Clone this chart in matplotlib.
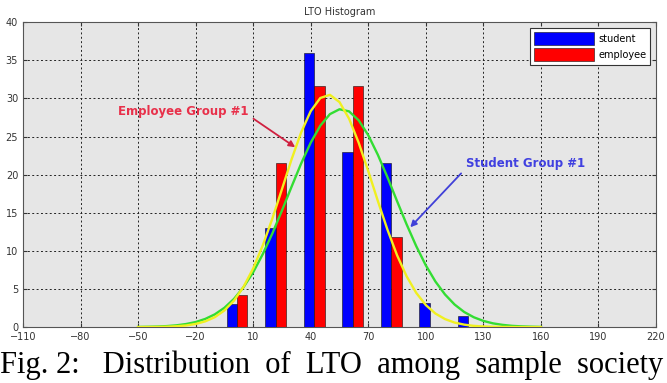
import matplotlib.pyplot as plt
import numpy as np

# Histogram bins (group centres) and counts
bin_centers = [1.6, 21.7, 41.8, 61.9, 82.0, 102.1, 122.2]
student = [3.0, 13.0, 36.0, 23.0, 21.5, 3.1, 1.5]
employee = [4.2, 21.5, 31.6, 31.6, 11.8, 0.0, 0.0]

# Fitted curves, every 5 units
curve_x = [-50, -45, -40, -35, -30, -25, -20, -15, -10, -5, 0, 5, 10, 15, 20, 25,
           30, 35, 40, 45, 50, 55, 60, 65, 70, 75, 80, 85, 90, 95, 100, 105,
           110, 115, 120, 125, 130, 135, 140, 145, 150, 155, 160]
student_fit = [0.02, 0.04, 0.07, 0.13, 0.23, 0.40, 0.66, 1.07, 1.67, 2.53, 3.70, 5.25,
               7.20, 9.57, 12.29, 15.29, 18.41, 21.46, 24.20, 26.43, 27.94, 28.58,
               28.30, 27.13, 25.17, 22.60, 19.66, 16.53, 13.47, 10.62, 8.10, 5.98,
               4.28, 2.96, 1.98, 1.29, 0.81, 0.49, 0.29, 0.16, 0.09, 0.05, 0.02]
employee_fit = [0.0, 0.01, 0.02, 0.05, 0.11, 0.21, 0.41, 0.75, 1.30, 2.18, 3.47, 5.29,
                7.70, 10.71, 14.24, 18.10, 22.00, 25.54, 28.34, 30.06, 30.47, 29.52,
                27.34, 24.19, 20.46, 16.54, 12.78, 9.43, 6.66, 4.49, 2.89, 1.78,
                1.05, 0.59, 0.32, 0.16, 0.08, 0.04, 0.02, 0.01, 0.0, 0.0, 0.0]

x_ticks = list(range(-110, 221, 30))
y_ticks = list(range(0, 41, 5))

fig = plt.figure(figsize=(6.67, 3.83), dpi=100)
ax = fig.add_axes([0.0345, 0.146, 0.949, 0.796])
ax.set_facecolor('#e6e6e6')

w = 5.4
centers = np.array(bin_centers)
ax.bar(centers - w / 2, student, width=w, color='#0000ff', edgecolor='#101010',
       linewidth=0.4, label='student', zorder=3)
ax.bar(centers + w / 2, employee, width=w, color='#ff0000', edgecolor='#101010',
       linewidth=0.4, label='employee', zorder=3)

ax.plot(curve_x, student_fit, color='#33dd33', linewidth=1.7, zorder=4)
ax.plot(curve_x, employee_fit, color='#f0f020', linewidth=1.7, zorder=4)

ax.set_xlim(-110, 220)
ax.set_ylim(0, 40)
ax.set_xticks(x_ticks)
ax.set_yticks(y_ticks)
ax.tick_params(labelsize=7, colors='#333333', length=3, direction='in',
               top=True, right=True)
ax.grid(True, linestyle=(0, (2, 2.5)), color='#222222', linewidth=0.7)
ax.set_axisbelow(True)
for s in ax.spines.values():
    s.set_color('#555555')

ax.set_title('LTO Histogram', fontsize=7, color='#333333', pad=5)

ax.annotate('Employee Group #1', xy=(31.9, 23.6), xytext=(-26.5, 28.3),
            color='#e8304a', fontsize=8.5, fontweight='bold', ha='center', va='center',
            arrowprops=dict(arrowstyle='-|>', color='#d02040', lw=1.3,
                            shrinkA=2, shrinkB=0, mutation_scale=9,
                            relpos=(1.0, 0.2)),
            zorder=5)
ax.annotate('Student Group #1', xy=(91.9, 13.1), xytext=(151.9, 21.5),
            color='#4040e0', fontsize=8.5, fontweight='bold', ha='center', va='center',
            arrowprops=dict(arrowstyle='-|>', color='#4040d8', lw=1.3,
                            shrinkA=2, shrinkB=0, mutation_scale=9,
                            relpos=(0.0, 0.1)),
            zorder=5)

leg = ax.legend(loc='upper right', fontsize=7, handlelength=6.2, handleheight=1.7,
                fancybox=False, framealpha=1, edgecolor='#333333',
                borderaxespad=0.6, labelspacing=0.3, handletextpad=0.4)
leg.get_frame().set_linewidth(0.8)

fig.text(0.0, 0.025, 'Fig. 2:   Distribution  of  LTO  among  sample  society',
         family='Liberation Serif', fontsize=22, ha='left', va='baseline')

fig.savefig('out.png', dpi=100)
